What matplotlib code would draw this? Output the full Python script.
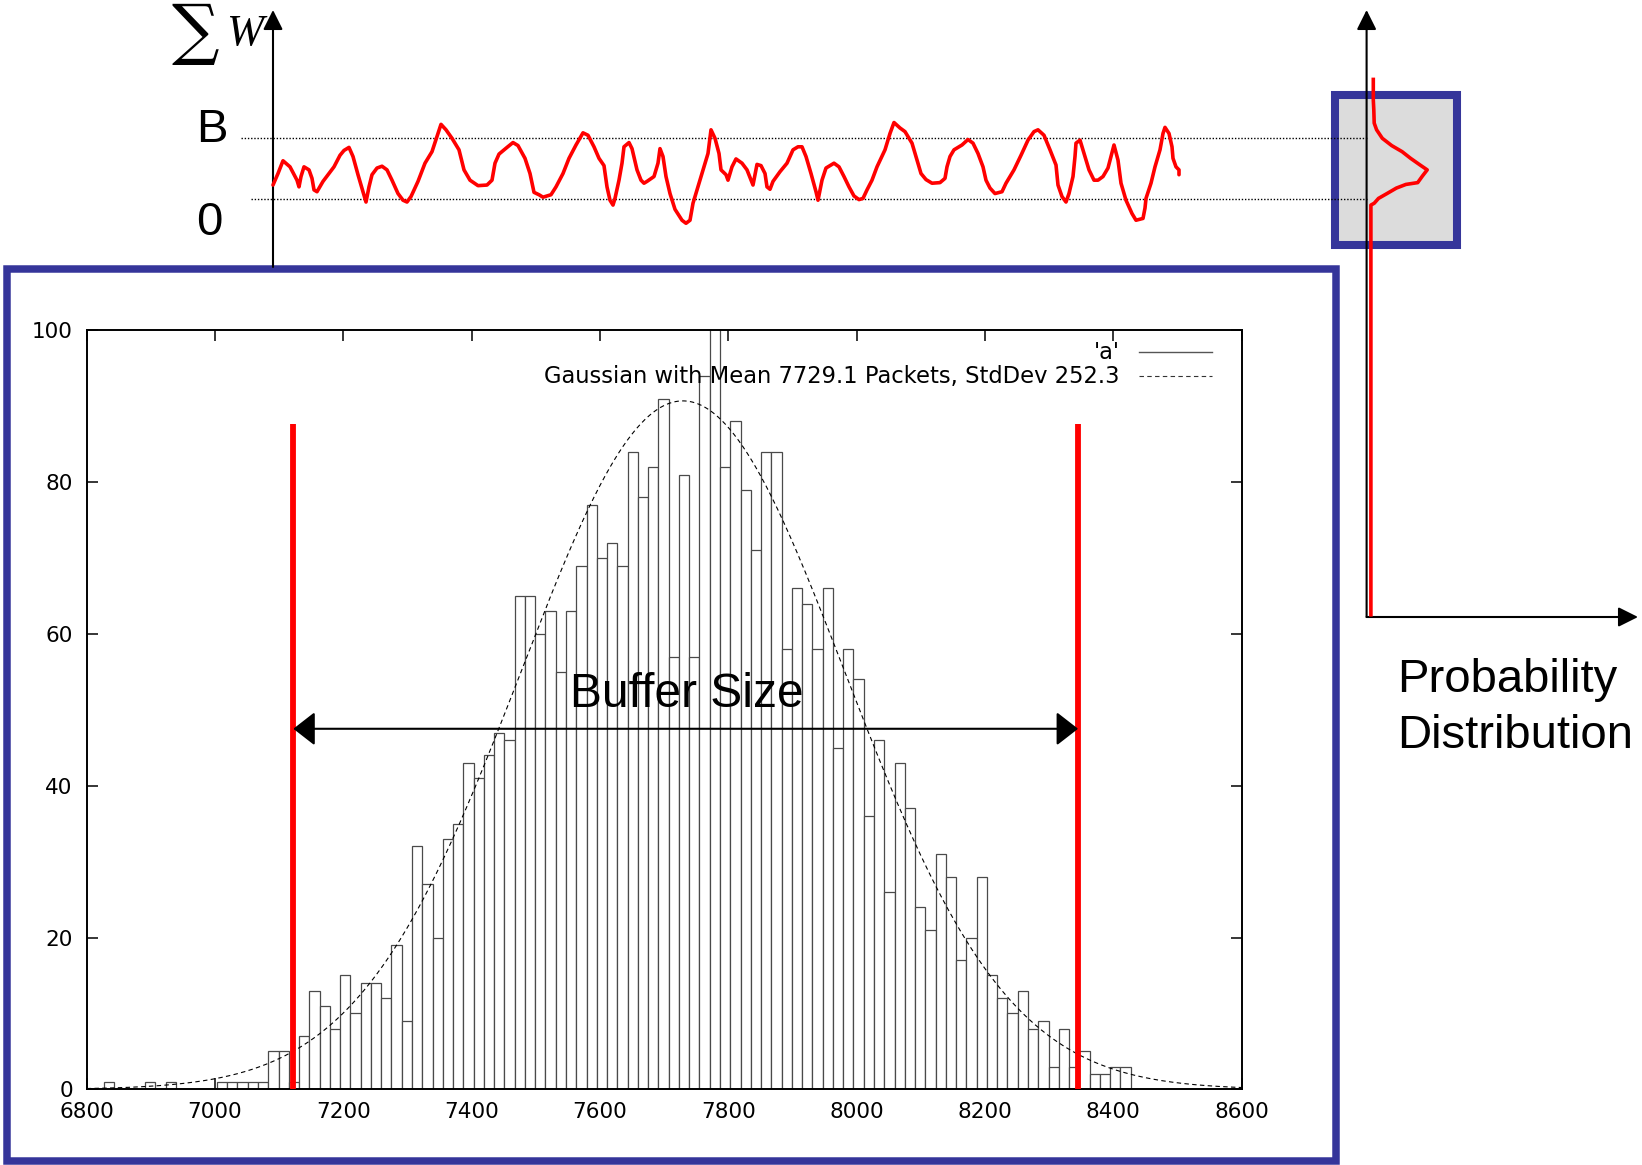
import numpy as np
import matplotlib
matplotlib.use('Agg')
import matplotlib.pyplot as plt
from matplotlib.patches import Rectangle

plt.rcParams['font.family'] = ['Liberation Sans', 'DejaVu Sans']

W_PX, H_PX = 1642, 1165

# ---- histogram data (bins of 16 packets) ----
bin_start = 6827
bin_width = 16
counts = [1, 0, 0, 0, 1, 0, 1, 0, 0, 0,
          0, 1, 1, 1, 1, 1, 5, 5, 1, 7,
          13, 11, 8, 15, 10, 14, 14, 12, 19, 9,
          32, 27, 20, 33, 35, 43, 41, 44, 47, 46,
          65, 65, 60, 63, 55, 63, 69, 77, 70, 72,
          69, 84, 78, 82, 91, 57, 81, 57, 94, 105,
          82, 88, 79, 71, 84, 84, 58, 66, 64, 58,
          66, 45, 58, 54, 36, 46, 26, 43, 37, 24,
          21, 31, 28, 17, 20, 28, 15, 12, 10, 13,
          8, 9, 3, 8, 3, 5, 2, 2, 3, 3]
gauss_mean = 7729.1
gauss_std = 252.3
gauss_peak = 90.7
buffer_low, buffer_high = 7122, 8345
buffer_top = 87.6
arrow_level = 47.5

x_ticks = list(range(6800, 8601, 200))
y_ticks = list(range(0, 101, 20))

# ---- sum of windows over time (B = 100) ----
sig_t = [0, 5, 10, 17, 24, 26, 28, 31, 36, 39,
         41, 44, 50, 61, 67, 71, 76, 80, 85, 90,
         93, 96, 99, 104, 109, 114, 119, 125, 130, 134,
         138, 145, 152, 159, 164, 168, 173, 179, 186, 191,
         197, 205, 214, 219, 222, 226, 234, 240, 245, 252,
         257, 261, 266, 270, 278, 283, 290, 296, 303, 310,
         315, 321, 326, 331, 334, 337, 340, 342, 346, 349,
         351, 356, 359, 364, 368, 371, 374, 381, 385, 387,
         390, 393, 397, 402, 409, 413, 417, 420, 424, 431,
         435, 438, 442, 446, 448, 453, 455, 459, 463, 469,
         474, 478, 480, 483, 484, 488, 492, 494, 497, 500,
         507, 514, 520, 525, 529, 533, 538, 543, 545, 549,
         553, 561, 566, 571, 576, 581, 586, 590, 594, 599,
         604, 612, 617, 621, 627, 632, 639, 644, 648, 653,
         659, 667, 672, 674, 677, 681, 689, 695, 700, 705,
         710, 713, 717, 722, 729, 733, 741, 748, 755, 761,
         765, 771, 777, 783, 785, 789, 793, 796, 800, 802,
         803, 807, 811, 816, 821, 825, 830, 835, 838, 841,
         845, 848, 853, 859, 863, 870, 872, 873, 878, 882,
         887, 890, 892, 896, 899, 900, 903, 906, 906]
sig_w = [23, 42, 63, 53, 31, 20, 37, 53, 48, 34,
         15, 12, 29, 53, 72, 80, 85, 70, 40, 12,
         -5, 20, 40, 51, 54, 48, 31, 9, -2, -5,
         4, 29, 59, 78, 103, 123, 114, 100, 81, 48,
         31, 22, 23, 31, 59, 74, 85, 93, 88, 67,
         42, 11, 7, 3, 7, 20, 42, 67, 89, 109,
         105, 86, 67, 55, 20, -2, -10, 1, 31, 59,
         86, 93, 83, 48, 31, 26, 29, 37, 59, 83,
         70, 37, 9, -17, -35, -40, -35, -7, 15, 53,
         75, 114, 100, 75, 48, 40, 31, 53, 66, 59,
         48, 31, 23, 48, 57, 55, 42, 20, 16, 29,
         45, 59, 81, 86, 86, 70, 42, 12, -2, 31,
         51, 59, 53, 37, 20, 5, -1, 1, 15, 31,
         53, 81, 108, 126, 117, 111, 92, 64, 42, 32,
         26, 27, 34, 53, 70, 81, 89, 98, 92, 75,
         53, 31, 18, 9, 12, 26, 48, 72, 97, 111,
         114, 105, 81, 56, 23, 4, -5, 9, 37, 70,
         92, 97, 75, 48, 31, 31, 37, 51, 70, 89,
         64, 26, -2, -24, -35, -32, -15, 1, 26, 53,
         81, 108, 118, 108, 86, 67, 53, 48, 40]

# ---- probability distribution of the sum (sideways) ----
prob_p = [6.7, 6.7, 7.2, 7.6, 10, 15.7, 25.1, 35.5, 44, 53.5,
          60.6, 55.9, 51.1, 39.3, 29.8, 20.4, 11.9, 7.6, 4.3, 4.3]
prob_w = [197, 163, 147, 125, 114, 100, 88, 78, 67, 56,
          48, 38, 27, 24, 18, 9, 1, -7, -10, -685]

BLUE = '#35359a'


def fig_rect(x0, y0, x1, y1):
    return [x0 / W_PX, 1 - y1 / H_PX, (x1 - x0) / W_PX, (y1 - y0) / H_PX]


fig = plt.figure(figsize=(W_PX / 100, H_PX / 100), dpi=100)

# background layer in pixel coordinates
bg = fig.add_axes([0, 0, 1, 1], zorder=0)
bg.set_xlim(0, W_PX)
bg.set_ylim(H_PX, 0)
bg.axis('off')

bg.add_patch(Rectangle((7, 269), 1328.5, 891.5, fill=False, ec=BLUE, lw=5.4))
bg.add_patch(Rectangle((1335, 94.5), 122, 150.5, fc='#dcdcdc', ec=BLUE, lw=5.8))

def axis_arrow(x0, y0, x1, y1):
    bg.annotate('', xy=(x1, y1), xytext=(x0, y0),
                arrowprops=dict(arrowstyle='-|>,head_length=1.2,head_width=0.6',
                                mutation_scale=10, color='black', lw=1.5,
                                shrinkA=0, shrinkB=0))

axis_arrow(273, 267, 273, 10)
axis_arrow(1366.6, 617, 1366.6, 10)
axis_arrow(1366.6, 617, 1638, 617)

bg.text(195, 33, '\u2211', family='DejaVu Serif', fontsize=48, ha='center', va='center')
bg.text(226, 45, 'W', family='Liberation Serif', style='italic', fontsize=32,
        ha='left', va='baseline')
bg.text(211.5, 142.5, 'B', fontsize=34, ha='center', va='baseline')
bg.text(209.5, 235, '0', fontsize=34, ha='center', va='baseline')
bg.text(1397, 691.5, 'Probability', fontsize=34, ha='left', va='baseline')
bg.text(1397, 748, 'Distribution', fontsize=34, ha='left', va='baseline')

# time series of sum W
px_zero, px_per_unit = 199.0, 0.607
w_lim = ((px_zero - 620) / px_per_unit, px_zero / px_per_unit)

ax_sig = fig.add_axes(fig_rect(273, 0, 1366.6, 620), zorder=3)
ax_sig.set_xlim(0, 1093.6)
ax_sig.set_ylim(*w_lim)
ax_sig.axis('off')
ax_sig.plot([-32, 1093.6], [100, 100], color='black', lw=1.0,
            ls=(0, (1, 1.3)), clip_on=False)
ax_sig.plot([-22, 1093.6], [0, 0], color='black', lw=1.0,
            ls=(0, (1, 1.3)), clip_on=False)
ax_sig.plot(sig_t, sig_w, color='red', lw=2.6, solid_joinstyle='round',
            solid_capstyle='round', clip_on=False)

ax_prob = fig.add_axes(fig_rect(1366.6, 0, 1642, 620), zorder=3)
ax_prob.set_xlim(0, 275.4)
ax_prob.set_ylim(*w_lim)
ax_prob.axis('off')
ax_prob.plot(prob_p, prob_w, color='red', lw=2.6, solid_joinstyle='round', clip_on=False)

# histogram
ax = fig.add_axes(fig_rect(86.7, 330.3, 1241.7, 1089.3), zorder=2)
edges = [bin_start + i * bin_width for i in range(len(counts))]
ax.bar(edges, counts, width=bin_width, align='edge', color='white',
       edgecolor='#4a4a4a', linewidth=0.9, zorder=2)
xs = np.linspace(6800, 8600, 800)
ax.plot(xs, gauss_peak * np.exp(-(xs - gauss_mean) ** 2 / (2 * gauss_std ** 2)),
        color='black', lw=0.8, dashes=(4, 3), zorder=3)
ax.set_xlim(6800, 8600)
ax.set_ylim(0, 100)
ax.set_xticks(x_ticks)
ax.set_yticks(y_ticks)
for lab in ax.get_xticklabels() + ax.get_yticklabels():
    lab.set_family('DejaVu Sans')
ax.tick_params(direction='in', length=8, width=1.1, top=True, right=True,
               labelsize=15.5)
ax.tick_params(axis='x', pad=9)
ax.tick_params(axis='y', pad=10)
for s in ax.spines.values():
    s.set_linewidth(1.4)

ax.vlines([buffer_low, buffer_high], 0, buffer_top, color='red', lw=4.2, zorder=4)
ax.annotate('', xy=(buffer_low, arrow_level), xytext=(buffer_high, arrow_level),
            arrowprops=dict(arrowstyle='<|-|>,head_length=1.35,head_width=1.05',
                            mutation_scale=10, color='black', lw=1.5,
                            shrinkA=0, shrinkB=0), zorder=5)
ax.text((buffer_low + buffer_high) / 2 + 1, 50.4, 'Buffer Size', fontsize=34.5,
        ha='center', va='baseline', zorder=5)

# gnuplot-style key
ax.text(0.8946, 0.9714, "'a'", transform=ax.transAxes, ha='right', va='center',
        fontsize=16.3, family='DejaVu Sans', zorder=6)
ax.plot([0.911, 0.974], [0.9714, 0.9714], transform=ax.transAxes,
        color='#555555', lw=1.0, zorder=6)
ax.text(0.8946, 0.9397, 'Gaussian with Mean 7729.1 Packets, StdDev 252.3',
        transform=ax.transAxes, ha='right', va='center', fontsize=16.3,
        family='DejaVu Sans', zorder=6)
ax.plot([0.911, 0.974], [0.9397, 0.9397], transform=ax.transAxes,
        color='#333333', lw=0.8, dashes=(4, 3), zorder=6)

fig.savefig('out.png', dpi=100, facecolor='white')
